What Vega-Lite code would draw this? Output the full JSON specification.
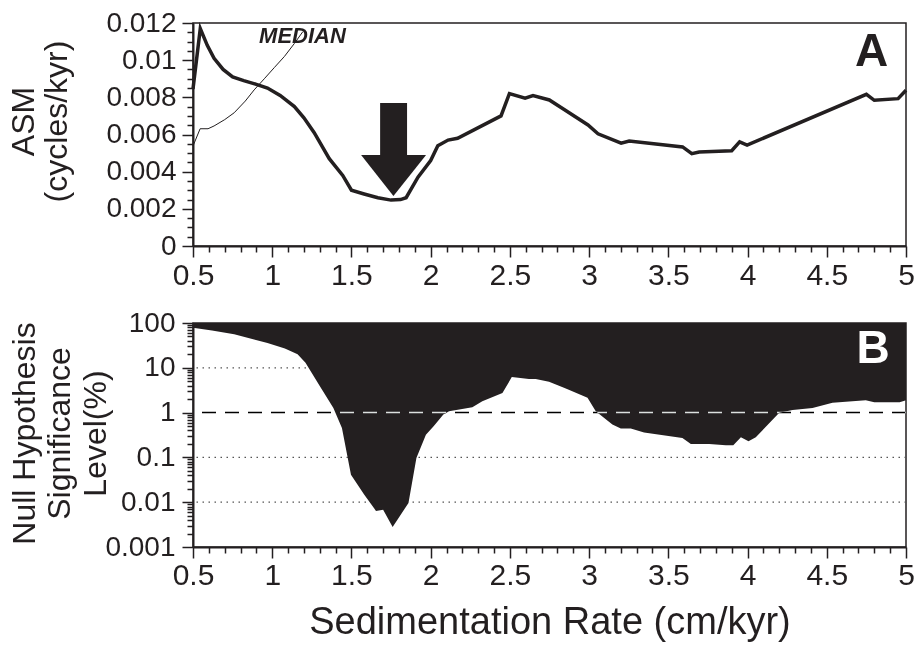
{
  "$schema": "https://vega.github.io/schema/vega-lite/v6.json",
  "background": "white",
  "padding": {"left": 6, "top": 8, "right": 0, "bottom": 0},
  "config": {
    "font": "Liberation Sans",
    "view": {"stroke": "#231f20", "strokeWidth": 1.5},
    "axis": {
      "domainColor": "#231f20", "domainWidth": 2,
      "tickColor": "#231f20", "tickWidth": 1.5,
      "labelColor": "#231f20", "titleColor": "#231f20",
      "labelFont": "Liberation Sans", "titleFont": "Liberation Sans",
      "titleFontWeight": "normal", "grid": false,
      "labelOverlap": false, "labelFlush": false
    }
  },
  "datasets": {
    "asm": [
      {"rate": 0.5, "v": 0.00845}, {"rate": 0.546, "v": 0.0117}, {"rate": 0.59, "v": 0.0108},
      {"rate": 0.633, "v": 0.0101}, {"rate": 0.69, "v": 0.0095}, {"rate": 0.75, "v": 0.0091},
      {"rate": 0.82, "v": 0.0089}, {"rate": 0.9, "v": 0.0087}, {"rate": 0.97, "v": 0.0085},
      {"rate": 1.05, "v": 0.0081}, {"rate": 1.14, "v": 0.0075}, {"rate": 1.2, "v": 0.0069},
      {"rate": 1.265, "v": 0.0061}, {"rate": 1.36, "v": 0.0047}, {"rate": 1.445, "v": 0.0038},
      {"rate": 1.5, "v": 0.003}, {"rate": 1.58, "v": 0.0028}, {"rate": 1.667, "v": 0.0026},
      {"rate": 1.75, "v": 0.00247}, {"rate": 1.81, "v": 0.0025}, {"rate": 1.845, "v": 0.0026},
      {"rate": 1.92, "v": 0.0037}, {"rate": 2.0, "v": 0.0046}, {"rate": 2.045, "v": 0.0054},
      {"rate": 2.11, "v": 0.0057}, {"rate": 2.17, "v": 0.0058}, {"rate": 2.444, "v": 0.007},
      {"rate": 2.497, "v": 0.0082}, {"rate": 2.596, "v": 0.00795}, {"rate": 2.646, "v": 0.00809},
      {"rate": 2.749, "v": 0.00786}, {"rate": 2.84, "v": 0.00736}, {"rate": 2.993, "v": 0.00651},
      {"rate": 3.056, "v": 0.00604}, {"rate": 3.202, "v": 0.00553}, {"rate": 3.253, "v": 0.00565},
      {"rate": 3.59, "v": 0.00533}, {"rate": 3.648, "v": 0.00497}, {"rate": 3.695, "v": 0.00506},
      {"rate": 3.9, "v": 0.00513}, {"rate": 3.95, "v": 0.0056}, {"rate": 3.997, "v": 0.00543},
      {"rate": 4.75, "v": 0.00816}, {"rate": 4.8, "v": 0.00784}, {"rate": 4.95, "v": 0.00793},
      {"rate": 5.0, "v": 0.00838}
    ],
    "median": [
      {"rate": 0.5, "v": 0.00538}, {"rate": 0.545, "v": 0.00631}, {"rate": 0.595, "v": 0.00631},
      {"rate": 0.633, "v": 0.00646}, {"rate": 0.7, "v": 0.0068}, {"rate": 0.76, "v": 0.00717},
      {"rate": 0.83, "v": 0.0078}, {"rate": 0.886, "v": 0.0084}, {"rate": 0.95, "v": 0.009},
      {"rate": 1.013, "v": 0.0096}, {"rate": 1.077, "v": 0.0102}, {"rate": 1.14, "v": 0.0109},
      {"rate": 1.193, "v": 0.01153}
    ],
    "shaft": [
      {"rate": 1.681, "rate2": 1.851, "v": 0.0049, "v2": 0.0077}
    ],
    "head": [
      {"rate": 1.561, "v": 0.0049},
      {"rate": 1.765, "v": 0.00269},
      {"rate": 1.971, "v": 0.0049}
    ],
    "signif": [
      {"rate": 0.5, "p": 78.5}, {"rate": 0.62, "p": 68}, {"rate": 0.76, "p": 56},
      {"rate": 0.97, "p": 36}, {"rate": 1.08, "p": 27}, {"rate": 1.16, "p": 20},
      {"rate": 1.21, "p": 12.9}, {"rate": 1.3, "p": 3.9}, {"rate": 1.386, "p": 1.27},
      {"rate": 1.44, "p": 0.455}, {"rate": 1.497, "p": 0.041}, {"rate": 1.58, "p": 0.0148},
      {"rate": 1.655, "p": 0.0064}, {"rate": 1.7, "p": 0.0068}, {"rate": 1.76, "p": 0.0028},
      {"rate": 1.81, "p": 0.0052}, {"rate": 1.86, "p": 0.0096}, {"rate": 1.91, "p": 0.097},
      {"rate": 1.97, "p": 0.32}, {"rate": 2.02, "p": 0.5}, {"rate": 2.08, "p": 0.91},
      {"rate": 2.116, "p": 1.07}, {"rate": 2.263, "p": 1.32}, {"rate": 2.326, "p": 1.8},
      {"rate": 2.453, "p": 2.75}, {"rate": 2.512, "p": 6.2}, {"rate": 2.62, "p": 5.6},
      {"rate": 2.663, "p": 5.6}, {"rate": 2.747, "p": 4.9}, {"rate": 2.853, "p": 3.46},
      {"rate": 2.99, "p": 2.14}, {"rate": 3.042, "p": 1.07}, {"rate": 3.147, "p": 0.54},
      {"rate": 3.2, "p": 0.44}, {"rate": 3.263, "p": 0.44}, {"rate": 3.347, "p": 0.36},
      {"rate": 3.589, "p": 0.27}, {"rate": 3.642, "p": 0.2}, {"rate": 3.758, "p": 0.2},
      {"rate": 3.863, "p": 0.187}, {"rate": 3.91, "p": 0.187}, {"rate": 3.958, "p": 0.28},
      {"rate": 4.006, "p": 0.23}, {"rate": 4.052, "p": 0.28}, {"rate": 4.2, "p": 0.99},
      {"rate": 4.284, "p": 1.15}, {"rate": 4.41, "p": 1.27}, {"rate": 4.536, "p": 1.65},
      {"rate": 4.746, "p": 1.89}, {"rate": 4.8, "p": 1.7}, {"rate": 4.96, "p": 1.7},
      {"rate": 5.0, "p": 1.89}
    ],
    "dotted": [{"p": 10}, {"p": 0.1}, {"p": 0.01}],
    "dashed": [{"p": 1}]
  },
  "spacing": 77,
  "bounds": "flush",
  "vconcat": [
    {
      "width": 713,
      "height": 223,
      "resolve": {"axis": {"x": "independent", "y": "independent"}},
      "layer": [
        {
          "data": {"name": "asm"},
          "mark": {"type": "line", "color": "#231f20", "strokeWidth": 3.5},
          "encoding": {
            "x": {
              "field": "rate", "type": "quantitative",
              "scale": {"domain": [0.5, 5], "nice": false, "zero": false},
              "axis": {
                "orient": "bottom", "title": null,
                "values": [0.5,1,1.5,2,2.5,3,3.5,4,4.5,5],
                "format": "~g", "tickSize": 11,
                "labelFontSize": 30, "labelPadding": 3,
                "labelOverlap": false, "labelFlush": false
              }
            },
            "y": {
              "field": "v", "type": "quantitative",
              "scale": {"domain": [0, 0.012], "nice": false},
              "axis": {
                "orient": "left",
                "title": ["ASM", "(cycles/kyr)"],
                "titleFontSize": 32, "titleLineHeight": 33,
                "titleBaseline": "alphabetic", "titleAngle": 270, "titleAlign": "center",
                "titleX": -160, "titleY": 98,
                "values": [0,0.002,0.004,0.006,0.008,0.01,0.012],
                "format": "~g", "tickSize": 11,
                "labelFontSize": 28, "labelPadding": 6,
                "labelOverlap": false
              }
            }
          }
        },
        {
          "data": {"name": "median"},
          "mark": {"type": "line", "color": "#231f20", "strokeWidth": 1},
          "encoding": {
            "x": {
              "field": "rate", "type": "quantitative",
              "axis": {
                "orient": "bottom", "title": null, "labels": false, "domain": false,
                "values": [0.6,0.7,0.8,0.9,1.1,1.2,1.3,1.4,1.6,1.7,1.8,1.9,2.1,2.2,2.3,2.4,2.6,2.7,2.8,2.9,3.1,3.2,3.3,3.4,3.6,3.7,3.8,3.9,4.1,4.2,4.3,4.4,4.6,4.7,4.8,4.9],
                "tickSize": 6
              }
            },
            "y": {
              "field": "v", "type": "quantitative",
              "axis": {
                "orient": "left", "title": null, "labels": false, "domain": false,
                "values": [0.0005,0.001,0.0015,0.0025,0.003,0.0035,0.0045,0.005,0.0055,0.0065,0.007,0.0075,0.0085,0.009,0.0095,0.0105,0.011,0.0115],
                "tickSize": 6
              }
            }
          }
        },
        {
          "data": {"name": "shaft"},
          "mark": {"type": "rect", "color": "#231f20"},
          "encoding": {
            "x": {"field": "rate", "type": "quantitative", "axis": null},
            "x2": {"field": "rate2"},
            "y": {"field": "v", "type": "quantitative", "axis": null},
            "y2": {"field": "v2"}
          }
        },
        {
          "data": {"name": "head"},
          "mark": {"type": "area", "color": "#231f20"},
          "encoding": {
            "x": {"field": "rate", "type": "quantitative", "axis": null},
            "y": {"field": "v", "type": "quantitative", "axis": null},
            "y2": {"datum": 0.0049}
          }
        },
        {
          "data": {"values": [{}]},
          "mark": {"type": "text", "text": "MEDIAN", "fontSize": 22, "fontWeight": "bold", "fontStyle": "italic", "align": "center", "baseline": "alphabetic", "color": "#231f20"},
          "encoding": {
            "x": {"datum": 1.191, "type": "quantitative", "axis": null},
            "y": {"datum": 0.01095, "type": "quantitative", "axis": null}
          }
        },
        {
          "data": {"values": [{}]},
          "mark": {"type": "text", "text": "A", "fontSize": 46, "fontWeight": "bold", "align": "center", "baseline": "alphabetic", "color": "#231f20"},
          "encoding": {
            "x": {"datum": 4.783, "type": "quantitative", "axis": null},
            "y": {"datum": 0.0097, "type": "quantitative", "axis": null}
          }
        }
      ]
    },
    {
      "width": 713,
      "height": 224,
      "resolve": {"axis": {"x": "independent", "y": "independent"}},
      "layer": [
        {
          "data": {"name": "dotted"},
          "mark": {"type": "rule", "color": "#555555", "strokeWidth": 1.2, "strokeDash": [1.5, 4.5]},
          "encoding": {
            "y": {
              "field": "p", "type": "quantitative",
              "axis": {
                "orient": "left", "title": null, "labels": false, "domain": false,
                "values": [0.002,0.003,0.004,0.005,0.006,0.007,0.008,0.009,0.02,0.03,0.04,0.05,0.06,0.07,0.08,0.09,0.2,0.3,0.4,0.5,0.6,0.7,0.8,0.9,2,3,4,5,6,7,8,9,20,30,40,50,60,70,80,90],
                "tickSize": 6
              }
            }
          }
        },
        {
          "data": {"name": "signif"},
          "mark": {"type": "area", "color": "#231f20", "opacity": 1},
          "encoding": {
            "x": {
              "field": "rate", "type": "quantitative",
              "scale": {"domain": [0.5, 5], "nice": false, "zero": false},
              "axis": {
                "orient": "bottom",
                "title": "Sedimentation Rate (cm/kyr)",
                "titleFontSize": 38, "titleBaseline": "alphabetic", "titleY": 86,
                "values": [0.5,1,1.5,2,2.5,3,3.5,4,4.5,5],
                "format": "~g", "tickSize": 11,
                "labelFontSize": 30, "labelPadding": 2,
                "labelOverlap": false, "labelFlush": false
              }
            },
            "y": {
              "field": "p", "type": "quantitative",
              "scale": {"type": "log", "domain": [0.001, 100], "nice": false},
              "axis": {
                "orient": "left",
                "title": ["Null Hypothesis", "Significance", "Level(%)"],
                "titleFontSize": 32, "titleLineHeight": 35.5,
                "titleBaseline": "alphabetic", "titleAngle": 270, "titleAlign": "center",
                "titleX": -159, "titleY": 110,
                "values": [0.001,0.01,0.1,1,10,100],
                "format": "~g", "tickSize": 11,
                "labelFontSize": 28, "labelPadding": 7,
                "labelOverlap": false
              }
            },
            "y2": {"datum": 100}
          }
        },
        {
          "data": {"name": "dashed"},
          "mark": {"type": "rule", "color": "white", "blend": "difference", "strokeWidth": 1.5, "strokeDash": [14, 9]},
          "encoding": {
            "y": {"field": "p", "type": "quantitative", "axis": null}
          }
        },
        {
          "data": {"values": [{}]},
          "mark": {"type": "text", "text": "B", "fontSize": 46, "fontWeight": "bold", "align": "center", "baseline": "alphabetic", "color": "white"},
          "encoding": {
            "x": {
              "datum": 4.793, "type": "quantitative",
              "axis": {
                "orient": "bottom", "title": null, "labels": false, "domain": false,
                "values": [0.6,0.7,0.8,0.9,1.1,1.2,1.3,1.4,1.6,1.7,1.8,1.9,2.1,2.2,2.3,2.4,2.6,2.7,2.8,2.9,3.1,3.2,3.3,3.4,3.6,3.7,3.8,3.9,4.1,4.2,4.3,4.4,4.6,4.7,4.8,4.9],
                "tickSize": 6
              }
            },
            "y": {"datum": 12.7, "type": "quantitative", "axis": null}
          }
        }
      ]
    }
  ]
}
